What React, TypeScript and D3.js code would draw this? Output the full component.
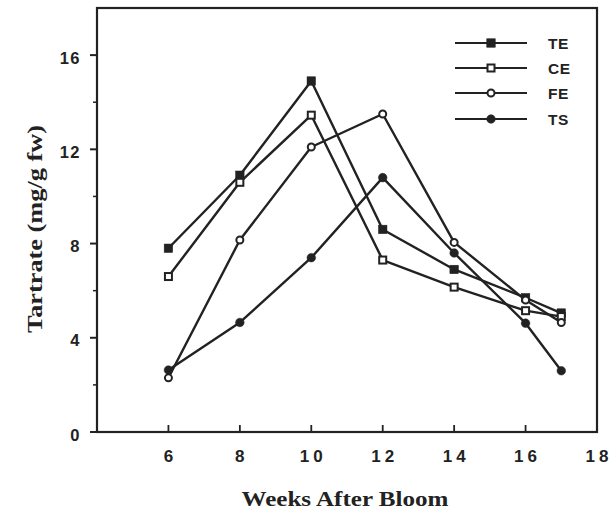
import React from "react";
import * as d3 from "d3";

const weeks = [6, 8, 10, 12, 14, 16, 17];
const seriesNames = ["TE", "CE", "FE", "TS"];
const teValues = [7.8, 10.9, 14.9, 8.6, 6.9, 5.7, 5.05];
const ceValues = [6.6, 10.6, 13.45, 7.3, 6.15, 5.15, 4.9];
const feValues = [2.3, 8.15, 12.1, 13.5, 8.05, 5.6, 4.65];
const tsValues = [2.63, 4.65, 7.4, 10.8, 7.6, 4.62, 2.6];
const xTicks = [6, 8, 10, 12, 14, 16, 18];
const yTicks = [0, 4, 8, 12, 16];
const yMinorTicks = [2, 6, 10, 14];

const W = 612, H = 511;
const x = d3.scaleLinear().domain([4, 18]).range([97, 597]);
const y = d3.scaleLinear().domain([0, 18]).range([432, 8]);
const ink = "#222";
const sans = "Liberation Sans, Arial, sans-serif";
const serif = "Liberation Serif, Times New Roman, serif";

const series = [
  { name: "TE", values: teValues, shape: "square", fill: ink },
  { name: "CE", values: ceValues, shape: "square", fill: "#fff" },
  { name: "FE", values: feValues, shape: "circle", fill: "#fff" },
  { name: "TS", values: tsValues, shape: "circle", fill: ink },
];

function Marker({ cx, cy, shape, fill }: any) {
  if (shape === "square") {
    const s = fill === "#fff" ? 7 : 8.5;
    return <rect x={cx - s / 2} y={cy - s / 2} width={s} height={s} fill={fill} stroke={ink} strokeWidth={fill === "#fff" ? 2 : 0.5} />;
  }
  const r = fill === "#fff" ? 3.5 : 4.3;
  return <circle cx={cx} cy={cy} r={r} fill={fill} stroke={ink} strokeWidth={fill === "#fff" ? 2 : 0.5} />;
}

export default function App() {
  const line = d3.line<number>().x((_, i) => x(weeks[i])).y((d) => y(d));
  const legendY = [43, 68, 93, 119];
  return (
    <svg width={W} height={H} style={{ position: "absolute", left: 0, top: 0, background: "#fff" }}>
      {/* frame */}
      <rect x={x(4)} y={y(18)} width={x(18) - x(4)} height={y(0) - y(18)} fill="none" stroke={ink} strokeWidth={2.2} />
      {/* y ticks */}
      {yTicks.map((t) => (
        <g key={"y" + t}>
          <line x1={x(4) - 7} x2={x(4)} y1={y(t)} y2={y(t)} stroke={ink} strokeWidth={2} />
          <text x={81} y={y(t) + 8.5} textAnchor="end" fontFamily={sans} fontWeight="bold" fontSize={16.5} letterSpacing={1.5} fill={ink}>{t}</text>
        </g>
      ))}
      {yMinorTicks.map((t) => (
        <line key={"ym" + t} x1={x(4) - 4} x2={x(4)} y1={y(t)} y2={y(t)} stroke={ink} strokeWidth={1.5} />
      ))}
      {/* x ticks */}
      {xTicks.filter((t) => t < 18).map((t) => (
        <line key={"xt" + t} x1={x(t)} x2={x(t)} y1={y(0)} y2={y(0) - 7} stroke={ink} strokeWidth={1.8} />
      ))}
      {xTicks.map((t) => (
        <text key={"xl" + t} x={x(t)} y={462} textAnchor="middle" fontFamily={sans} fontWeight="bold" fontSize={17} letterSpacing={t >= 10 ? 4 : 0} dx={t >= 10 ? 2 : 0} fill={ink}>{t}</text>
      ))}
      {/* axis titles */}
      <text x={345} y={506} textAnchor="middle" fontFamily={serif} fontWeight="bold" fontSize={20} textLength={207} lengthAdjust="spacingAndGlyphs" fill={ink}>Weeks After Bloom</text>
      <text transform={`translate(42,229) rotate(-90)`} textAnchor="middle" fontFamily={serif} fontWeight="bold" fontSize={20} textLength={208} lengthAdjust="spacingAndGlyphs" fill={ink}>Tartrate (mg/g fw)</text>
      {/* series lines */}
      {series.map((s) => (
        <path key={"l" + s.name} d={line(s.values) || ""} fill="none" stroke={ink} strokeWidth={2.4} strokeLinejoin="round" />
      ))}
      {series.map((s) => (
        <g key={"m" + s.name}>
          {s.values.map((v, i) => (
            <Marker key={i} cx={x(weeks[i])} cy={y(v)} shape={s.shape} fill={s.fill} />
          ))}
        </g>
      ))}
      {/* legend */}
      {series.map((s, i) => (
        <g key={"lg" + s.name}>
          <line x1={455} x2={527} y1={legendY[i]} y2={legendY[i]} stroke={ink} strokeWidth={2.2} />
          <Marker cx={491} cy={legendY[i]} shape={s.shape} fill={s.fill} />
          <text x={548} y={legendY[i] + 6} fontFamily={sans} fontWeight="bold" fontSize={15.5} letterSpacing={0.5} fill={ink}>{seriesNames[i]}</text>
        </g>
      ))}
    </svg>
  );
}
